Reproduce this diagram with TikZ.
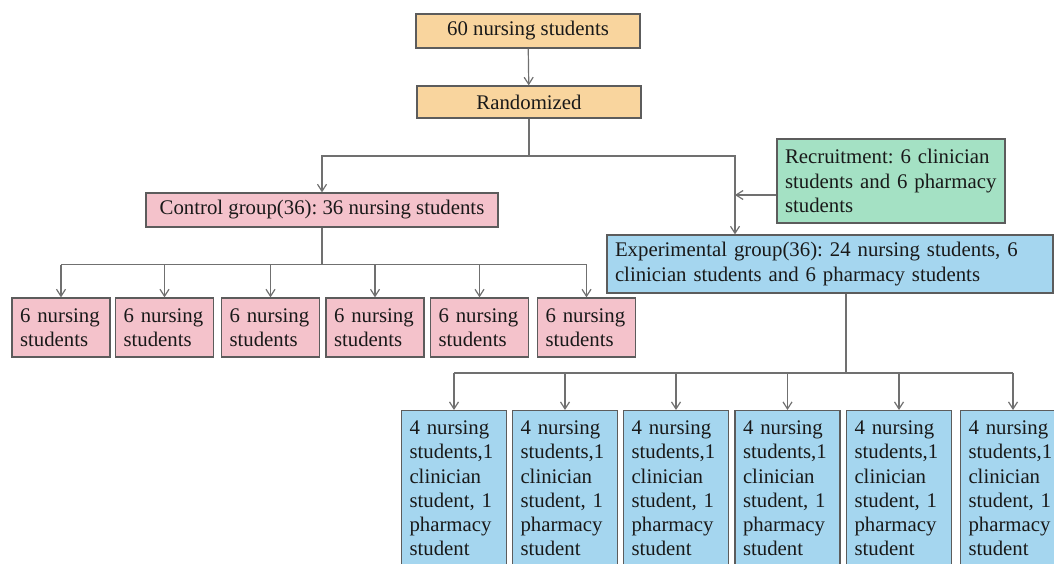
\documentclass[tikz,border=0pt]{standalone}
\usepackage{fontspec}
\setmainfont{Liberation Serif}
\usepackage{xcolor}
\usetikzlibrary{arrows.meta,calc}
\definecolor{boxorange}{HTML}{F9D59E}
\definecolor{boxpink}{HTML}{F4C2CB}
\definecolor{boxgreen}{HTML}{A4E1C4}
\definecolor{boxblue}{HTML}{A5D6EF}
\definecolor{boxline}{HTML}{5C5C5C}
\definecolor{linegray}{HTML}{707070}
\frenchspacing
\begin{document}
\begin{tikzpicture}[x=1pt,y=-1pt,
  box/.style={draw=boxline, line width=1.3pt, inner sep=0pt,
    font=\fontsize{20.8}{24.3}\selectfont, text=black!90},
  ln/.style={draw=linegray, line width=1.2pt},
  arr/.style={ln, -{Straight Barb[length=7pt,width=9pt]}}]
\clip (0,0) rectangle (1054,563);
\node[box, fill=boxorange, minimum width=224pt, minimum height=34pt] (top) at (528,31) {60 nursing students};
\node[box, fill=boxorange, minimum width=224pt, minimum height=32pt] (rand) at (529,102) {Randomized};
\node[box, fill=boxpink, minimum width=352pt, minimum height=34pt] (ctrl) at (322,210) {Control group(36): 36 nursing students};
\node[box, fill=boxgreen, minimum width=228pt, minimum height=84pt, text width=212pt, align=left] (recr) at (891,181)
  {Recruitment: 6 clinician\\students and 6 pharmacy\\students};
\node[box, fill=boxblue, minimum width=446pt, minimum height=58pt, text width=430pt, align=left] (exp) at (830,264)
  {Experimental group(36): 24 nursing students, 6\\clinician students and 6 pharmacy students};
\foreach \i/\cx in {1/61,2/164.5,3/270.5,4/375,5/479.5,6/586.5}
  \node[box, fill=boxpink, minimum width=98pt, minimum height=59pt, text width=82pt, align=left] (pk\i) at (\cx,327.5)
    {6 nursing\\students};
\foreach \i/\cx in {1/454,2/565,3/676,4/787.5,5/899,6/1013}
  \node[box, fill=boxblue, minimum width=105pt, text width=89pt, align=left, inner ysep=10pt, anchor=north] (bl\i) at (\cx,410)
    {4 nursing\\students,1\\clinician\\student, 1\\pharmacy\\student};
\draw[arr] (top) -- (rand);
\coordinate (split) at (529,156);
\coordinate (expin) at (735,156);
\draw[ln] (rand.south) -- (split);
\draw[arr] (split) -| (ctrl.north);
\draw[arr] (split) -- (expin) -- (expin |- exp.north);
\draw[arr] ([yshift=-14pt]recr.west) -- ([yshift=-14pt]recr.west -| expin);
\coordinate (cbar) at ($(ctrl.south)+(0,37)$);
\draw[ln] (ctrl.south) -- (cbar);
\draw[ln] (pk1.north |- cbar) -- (pk6.north |- cbar);
\foreach \i in {1,...,6}
  \draw[arr] (pk\i.north |- cbar) -- (pk\i.north);
\coordinate (ebar) at (846,373);
\draw[ln] (ebar |- exp.south) -- (ebar);
\draw[ln] (bl1.north |- ebar) -- (bl6.north |- ebar);
\foreach \i in {1,...,6}
  \draw[arr] (bl\i.north |- ebar) -- (bl\i.north);
\end{tikzpicture}
\end{document}
